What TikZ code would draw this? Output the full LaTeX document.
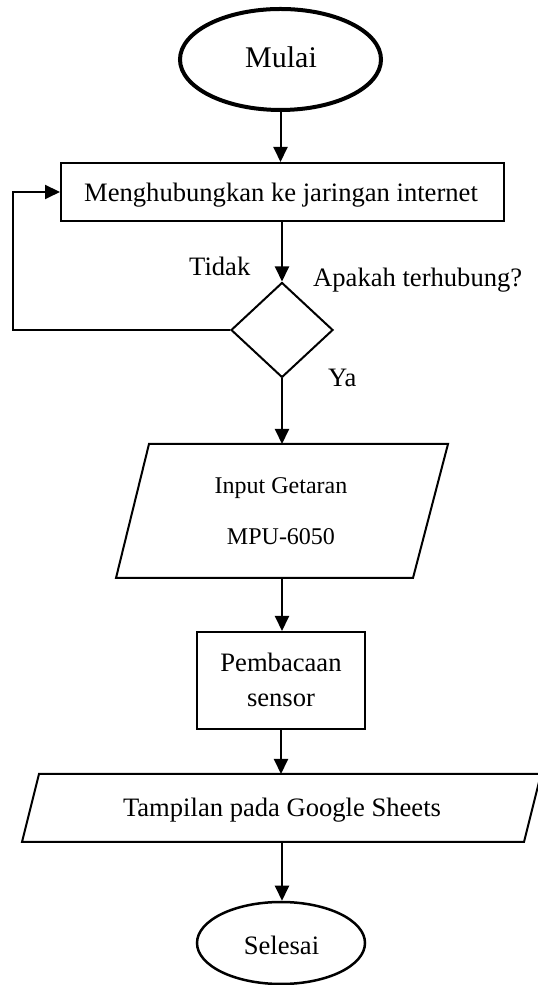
\documentclass[tikz,border=0pt]{standalone}
\usepackage{fontspec}
\setmainfont{Liberation Serif}
\usetikzlibrary{shapes.geometric,arrows.meta}
\begin{document}
\begin{tikzpicture}[x=1pt,y=1pt,
  line/.style={line width=2pt},
  arr/.style={line width=2pt,-{Triangle[length=15pt,width=14pt]}},
  lbl/.style={font=\fontsize{26.6}{30}\selectfont, inner sep=0, anchor=base},
  procbox/.style={draw, line width=2pt, rectangle, inner sep=0},
]
\useasboundingbox (0,0) rectangle (538,985);
% start
\node[draw, ellipse, line width=4pt, minimum width=201, minimum height=101, inner sep=0] (start) at (280.5,925.5) {};
\node[lbl, font=\fontsize{30}{36}\selectfont] (tstart) at (281,917) {Mulai};
% connect box
\node[procbox, minimum width=443, minimum height=58] (conn) at (282.5,793) {};
\node[lbl] (tconn) at (281,783) {Menghubungkan ke jaringan internet};
% decision
\node[draw, diamond, line width=2pt, minimum width=102, minimum height=95, inner sep=0] (dec) at (282,655) {};
\node[lbl, anchor=base west] (tdec) at (313,698) {Apakah terhubung?};
\node[lbl, anchor=base west] (tno) at (189,709) {Tidak};
\node[lbl, anchor=base west] (tyes) at (328,598) {Ya};
% input parallelogram
\draw[line] (149,541) -- (448,541) -- (413,407) -- (116,407) -- cycle;
\coordinate (inN) at (282,541);
\coordinate (inS) at (282,407);
\node[lbl, font=\fontsize{24}{28}\selectfont] (tin1) at (281,491) {Input Getaran};
\node[lbl, font=\fontsize{24}{28}\selectfont] (tin2) at (281,440) {MPU-6050};
% read box
\node[procbox, minimum width=168, minimum height=97] (read) at (281,304.5) {};
\node[lbl] (tread1) at (281,313) {Pembacaan};
\node[lbl] (tread2) at (281,278) {sensor};
% output parallelogram
\draw[line] (39,211) -- (541,211) -- (524,143) -- (22,143) -- cycle;
\coordinate (outN) at (282,211);
\coordinate (outS) at (282,143);
\node[lbl] (tout) at (282,168) {Tampilan pada Google Sheets};
% stop
\node[draw, ellipse, line width=2.5pt, minimum width=168, minimum height=82, inner sep=0] (stop) at (281,42) {};
\node[lbl] (tstop) at (281.5,30) {Selesai};
% connectors
\draw[arr] (start.south) -- (start.south |- conn.north);
\draw[arr] (dec.north |- conn.south) -- (dec.north);
\draw[arr] (dec.south) -- (inN);
\draw[arr] (inS) -- (inS |- read.north);
\draw[arr] (read.south) -- (read.south |- outN);
\draw[arr] (outS) -- (outS |- stop.north);
\coordinate (lp) at (13,655);
\draw[arr] (dec.west) -- (lp) |- (conn.west);
\end{tikzpicture}
\end{document}
